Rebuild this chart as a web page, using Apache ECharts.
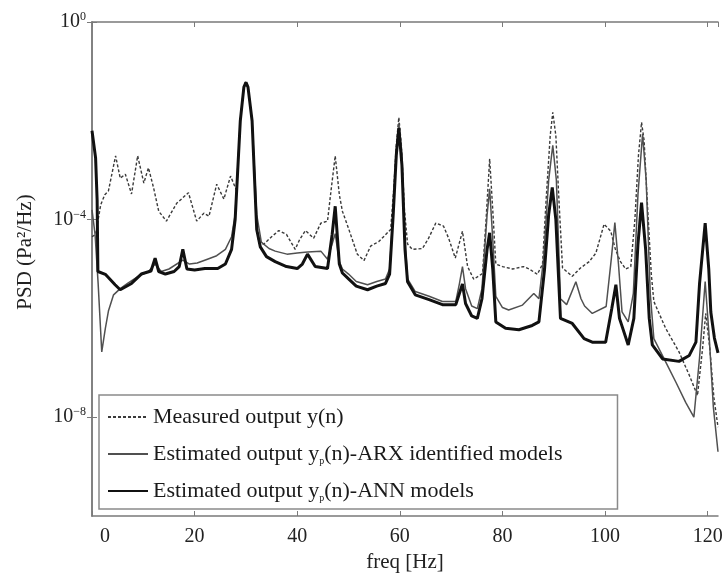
<!DOCTYPE html>
<html>
<head>
<meta charset="utf-8">
<script src="https://cdn.jsdelivr.net/npm/echarts@6/dist/echarts.min.js"></script>
<style>html,body{margin:0;padding:0;background:#fff}#chart{width:725px;height:576px}</style>
</head>
<body>
<div id="chart"></div>
<script>
// ---- data ----
const freqMeasured = [0,0.7,1.7,2.5,3.2,4.6,5.5,6.5,7.7,8.9,10.1,11.0,12.0,13.0,14.5,16.5,18.8,20.4,21.8,22.8,24.3,25.7,27.0,28.2,28.9,29.6,30.0,30.4,31.2,32.0,32.5,33.5,35.0,36.4,37.9,39.6,40.5,41.6,43.2,44.6,45.9,46.6,47.4,48.2,48.8,50.0,51.7,53.0,54.3,55.9,58.2,58.8,59.3,59.8,60.3,60.9,61.5,62.4,64.4,65.6,67.0,68.5,69.5,70.8,72.2,73.2,74.4,76.1,76.8,77.5,78.1,78.7,80.0,82.0,84.1,85.2,86.8,87.8,88.5,89.3,89.8,90.4,91.0,91.7,93.6,95.2,96.9,98.2,99.8,101.1,102.0,103.0,104.0,105.0,105.8,106.5,107.1,107.6,108.3,109.0,109.5,111.8,114.4,116.4,118.0,119.0,119.6,120.4,121.2,122.0];
const psdMeasured = [4.5e-5,5.0e-5,2.0e-4,3.2e-4,3.8e-4,1.95e-3,6.9e-4,8.3e-4,3.3e-4,1.95e-3,5.5e-4,1.12e-3,4.4e-4,1.48e-4,9.3e-5,2.14e-4,3.5e-4,9.3e-5,1.35e-4,1.17e-4,5.2e-4,2.6e-4,7.6e-4,3.8e-4,1.0e-2,5.0e-2,6.3e-2,5.0e-2,1.0e-2,1.26e-4,3.3e-5,3.2e-5,4.5e-5,6.0e-5,5.0e-5,2.5e-5,4.0e-5,6.0e-5,4.2e-5,8.5e-5,9.3e-5,4.0e-4,1.95e-3,3.2e-4,1.48e-4,6.6e-5,2.0e-5,1.48e-5,2.9e-5,3.6e-5,6.3e-5,4.0e-4,3.2e-3,1.17e-2,3.2e-3,1.58e-4,3.2e-5,2.5e-5,2.6e-5,4.2e-5,8.5e-5,7.4e-5,4.2e-5,1.66e-5,5.8e-5,1.12e-5,6.2e-6,8.1e-6,1.0e-4,1.7e-3,1.58e-4,1.26e-5,1.12e-5,1.0e-5,1.12e-5,1.0e-5,7.8e-6,1.26e-5,2.5e-4,5.0e-3,1.48e-2,5.0e-3,2.5e-4,1.05e-5,7.1e-6,1.05e-5,1.41e-5,2.1e-5,8.1e-5,5.8e-5,2.5e-5,1.41e-5,1.0e-5,1.12e-5,1.0e-4,2.0e-3,9.3e-3,4.0e-3,1.58e-4,7.9e-6,2.2e-6,6.3e-7,2.1e-7,7.1e-8,2.75e-8,2.5e-7,1.26e-6,2.5e-7,2.5e-8,6.3e-9];

const freqARX = [0,0.6,1.2,1.9,2.6,3.2,4.2,5.5,7.0,9.0,11.0,12.3,13.5,15.0,17.7,19.0,20.5,22.5,24.3,26.0,27.2,27.9,28.9,29.6,30.0,30.4,31.2,32.1,33.0,34.5,35.7,38.0,40.0,42.0,44.6,45.9,46.8,47.4,48.2,48.8,50.0,51.5,53.7,55.5,57.2,58.0,58.7,59.3,59.8,60.4,61.0,61.5,63.0,65.7,68.3,70.9,71.6,72.2,72.8,74.0,75.1,76.0,77.0,77.5,78.1,78.7,80.0,81.2,83.9,86.1,87.1,88.0,89.0,89.8,90.5,91.3,92.5,94.3,95.3,96.0,97.5,100.2,101.2,101.9,102.6,103.3,104.5,105.5,106.4,107.3,108.0,108.8,109.5,111.8,113.8,115.7,117.3,118.4,119.5,120.3,121.1,122.0];
const psdARX = [1.58e-4,5.0e-5,5.0e-6,2.1e-7,6.3e-7,1.41e-6,3.0e-6,4.0e-6,5.2e-6,7.1e-6,8.9e-6,1.26e-5,8.9e-6,1.0e-5,1.51e-5,1.26e-5,1.32e-5,1.58e-5,1.86e-5,2.5e-5,4.5e-5,1.26e-4,1.0e-2,4.8e-2,6.0e-2,4.8e-2,1.0e-2,1.26e-4,3.5e-5,2.6e-5,2.3e-5,2.0e-5,2.1e-5,2.2e-5,2.3e-5,1.58e-5,3.2e-5,5.2e-5,1.41e-5,1.0e-5,7.9e-6,5.6e-6,4.8e-6,5.6e-6,6.3e-6,1.0e-5,1.58e-4,2.5e-3,8.9e-3,2.0e-3,4.0e-5,6.3e-6,3.5e-6,2.8e-6,2.2e-6,2.2e-6,5.0e-6,1.12e-5,4.0e-6,1.78e-6,1.58e-6,4.0e-6,1.26e-4,4.2e-4,4.0e-5,2.8e-6,1.66e-6,1.48e-6,1.86e-6,3.2e-6,2.5e-6,1.58e-5,6.3e-4,3.2e-3,6.3e-4,2.5e-6,1.9e-6,5.5e-6,2.5e-6,1.78e-6,1.26e-6,1.74e-6,1.58e-5,8.7e-5,1.26e-5,1.35e-6,8.5e-7,3.2e-6,3.2e-4,5.4e-3,6.3e-4,3.2e-6,3.9e-7,1.32e-7,5.1e-8,2.0e-8,1.0e-8,1.58e-7,5.6e-6,4.0e-7,1.58e-8,2.0e-9];

const freqANN = [0,0.7,1.0,1.15,2.6,4.5,5.5,7.7,9.6,11.5,12.3,13.0,14.3,16.0,17.0,17.7,18.5,20.0,22.0,24.5,26.0,27.2,27.9,28.9,29.6,30.0,30.4,31.2,32.1,32.8,34.0,35.7,37.9,40.0,41.0,42.0,43.5,45.9,46.8,47.4,48.2,48.8,50.0,51.5,53.7,55.5,57.2,58.0,58.7,59.3,59.8,60.4,61.0,61.5,63.0,65.7,68.3,70.9,71.6,72.2,72.8,74.0,75.1,76.0,77.0,77.5,78.1,78.7,80.6,83.2,85.8,87.1,88.2,89.0,89.7,90.4,91.3,93.6,95.9,97.5,100.1,101.3,102.1,102.8,104.5,105.6,106.4,107.1,107.9,108.6,109.2,111.2,114.4,116.4,117.7,118.4,119.5,120.2,120.6,121.3,122.0];
const psdANN = [6.3e-3,1.78e-3,2.5e-4,8.9e-6,7.8e-6,4.8e-6,3.8e-6,5.1e-6,7.9e-6,9.1e-6,1.66e-5,8.9e-6,7.9e-6,8.9e-6,1.12e-5,2.5e-5,1.0e-5,9.5e-6,1.02e-5,1.02e-5,1.26e-5,2.5e-5,1.0e-4,1.0e-2,4.8e-2,6.0e-2,4.8e-2,1.0e-2,6.3e-5,2.8e-5,1.78e-5,1.41e-5,1.12e-5,1.02e-5,1.26e-5,2.0e-5,1.12e-5,1.02e-5,5.0e-5,1.86e-4,1.26e-5,8.3e-6,6.3e-6,4.5e-6,3.8e-6,4.5e-6,5.1e-6,7.9e-6,1.26e-4,2.0e-3,7.1e-3,1.26e-3,2.5e-5,5.5e-6,3.0e-6,2.4e-6,1.9e-6,1.9e-6,3.2e-6,5.0e-6,2.0e-6,1.12e-6,1.0e-6,2.5e-6,2.5e-5,5.4e-5,1.0e-5,8.5e-7,6.3e-7,5.9e-7,7.2e-7,8.5e-7,1.0e-5,1.26e-4,4.5e-4,1.0e-4,1.0e-6,7.9e-7,3.9e-7,3.3e-7,3.3e-7,1.58e-6,4.8e-6,1.0e-6,2.9e-7,1.0e-6,3.2e-5,2.2e-4,2.5e-5,1.0e-6,2.9e-7,1.51e-7,1.35e-7,1.78e-7,3.3e-7,5.0e-6,8.5e-5,1.0e-5,1.35e-6,4.0e-7,2.0e-7];

const seriesNames = ['Measured output y(n)', 'Estimated output yp(n)-ARX identified models', 'Estimated output yp(n)-ANN models'];
const yTickValues = [1e-8, 1e-4, 1];
const xTickStep = 20;

// ---- chart ----
const SERIF = "'Liberation Serif','Times New Roman',serif";
const AXIS_COLOR = '#7a7a7a';
const pairs = (xs, ys) => xs.map((x, i) => [x, ys[i]]);

const chart = echarts.init(document.getElementById('chart'), null, {renderer: 'canvas'});

const commonX = {
  type: 'value', min: 0, max: 122, interval: xTickStep,
  axisLine: {show: true, onZero: false, lineStyle: {color: AXIS_COLOR, width: 1.5}},
  axisTick: {show: true, inside: true, length: 5, lineStyle: {color: AXIS_COLOR, width: 1}},
  splitLine: {show: false}
};
const commonY = {
  type: 'log', logBase: 10, min: 1e-10, max: 1,
  axisLine: {show: true, lineStyle: {color: AXIS_COLOR, width: 1.5}},
  axisTick: {show: true, inside: true, length: 5, customValues: yTickValues, lineStyle: {color: AXIS_COLOR, width: 1}},
  splitLine: {show: false}, minorTick: {show: false}
};

const lineColors = ['#3a3a3a', '#505050', '#111111'];

const option = {
  animation: false,
  backgroundColor: '#ffffff',
  grid: {left: 92, right: 7, top: 22, bottom: 60, containLabel: false, outerBoundsMode: 'none'},
  xAxis: [
    Object.assign({}, commonX, {
      position: 'bottom',
      name: 'freq [Hz]', nameLocation: 'middle', nameGap: 36,
      nameTextStyle: {fontFamily: SERIF, fontSize: 21, color: '#222'},
      axisLabel: {
        show: true, margin: 11, fontFamily: SERIF, fontSize: 20, color: '#222',
        formatter: v => v === 0 ? '{z|0}' : String(v),
        rich: {z: {fontFamily: SERIF, fontSize: 20, color: '#222', padding: [0, 0, 0, 26]}}
      }
    }),
    Object.assign({}, commonX, {position: 'top', axisLabel: {show: false}})
  ],
  yAxis: [
    Object.assign({}, commonY, {
      position: 'left',
      name: 'PSD (Pa²/Hz)', nameLocation: 'middle', nameGap: 56,
      nameTextStyle: {fontFamily: SERIF, fontSize: 21, color: '#222', padding: [0, 0, 0, 34]},
      axisLabel: {
        show: true, margin: 6, customValues: yTickValues, color: '#222',
        fontFamily: SERIF, fontSize: 20,
        formatter: v => {
          const e = Math.round(Math.log10(v));
          return '{b|10}{s|' + (e < 0 ? '\u2212' + (-e) : String(e)) + '}';
        },
        rich: {
          b: {fontFamily: SERIF, fontSize: 20, color: '#222', lineHeight: 22},
          s: {fontFamily: SERIF, fontSize: 12, color: '#222', verticalAlign: 'top', lineHeight: 12}
        }
      }
    }),
    Object.assign({}, commonY, {position: 'right', axisLabel: {show: false}})
  ],
  legend: {
    show: true, orient: 'vertical', left: 99, top: 395,
    data: seriesNames,
    selectedMode: false,
    itemWidth: 40, itemHeight: 14, itemGap: 13,
    padding: [10, 55, 6, 8],
    borderColor: '#8a8a8a', borderWidth: 1.5, backgroundColor: '#ffffff',
    itemStyle: {opacity: 0},
    textStyle: {
      fontFamily: SERIF, fontSize: 22, color: '#1a1a1a', lineHeight: 24,
      rich: {
        t: {fontFamily: SERIF, fontSize: 22, color: '#1a1a1a', lineHeight: 24},
        sub: {fontFamily: SERIF, fontSize: 10, color: '#1a1a1a', verticalAlign: 'bottom', lineHeight: 14}
      }
    },
    formatter: name => {
      const i = name.indexOf('yp(');
      if (i < 0) return '{t|' + name + '}';
      return '{t|' + name.slice(0, i + 1) + '}{sub|p}{t|' + name.slice(i + 2) + '}';
    }
  },
  series: [
    {
      name: seriesNames[0], type: 'line', data: pairs(freqMeasured, psdMeasured),
      showSymbol: false, symbol: 'none', clip: true,
      itemStyle: {color: lineColors[0]},
      lineStyle: {color: lineColors[0], width: 1.4, type: [3, 2]}, z: 3
    },
    {
      name: seriesNames[1], type: 'line', data: pairs(freqARX, psdARX),
      showSymbol: false, symbol: 'none', clip: true,
      itemStyle: {color: lineColors[1]},
      lineStyle: {color: lineColors[1], width: 1.5}, z: 4
    },
    {
      name: seriesNames[2], type: 'line', data: pairs(freqANN, psdANN),
      showSymbol: false, symbol: 'none', clip: true,
      itemStyle: {color: lineColors[2]},
      lineStyle: {color: lineColors[2], width: 3}, z: 5
    }
  ]
};
chart.setOption(option);
</script>
</body>
</html>
